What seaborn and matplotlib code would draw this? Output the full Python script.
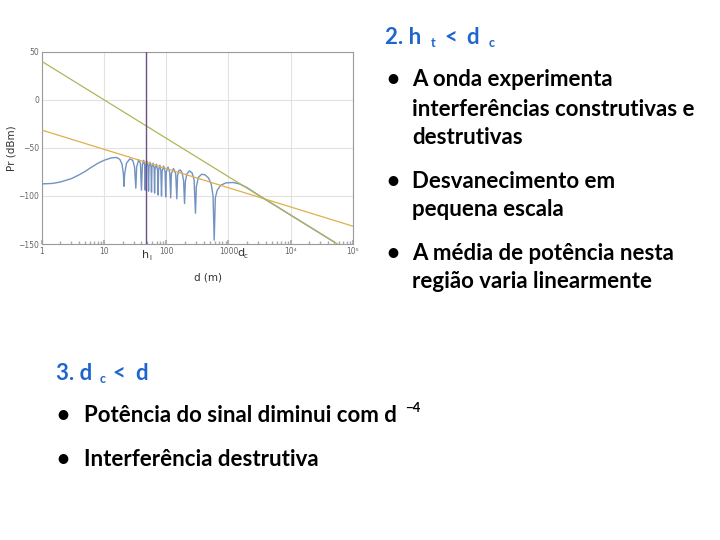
import numpy as np
import pandas as pd
import matplotlib
matplotlib.use("Agg")
import matplotlib.pyplot as plt
import seaborn as sns

# ---- data ----
# two-ray received power curve (d in m, Pr in dBm)
blue_d = [1, 1.5, 2, 3, 4, 5, 6, 8, 10, 13, 16, 18, 19.5, 20.5, 21, 21.5, 23, 26, 29, 31,
          32.5, 33.5, 36, 38.5, 40, 41.5, 43.5, 45, 46, 47, 49, 51, 52, 53, 55, 57,
          58, 59, 61.5, 64, 65, 66, 69.5, 72.5, 74, 75.5, 79, 82, 84, 86, 91, 96,
          98, 100.5, 107, 114, 118, 121, 131, 142, 148, 152, 160, 169, 180, 190,
          197, 203, 215, 236, 260, 280, 295, 305, 330, 370, 420, 480, 530, 565,
          590, 615, 660, 750, 900, 1180, 1500, 2000, 3000, 4000, 6000, 10000, 20000, 50000]
blue_pr = [-87.5, -87, -85.5, -82, -78, -74.5, -71, -66, -63, -60.5, -60, -62, -67, -77, -90, -77, -66, -61.5, -63, -70,
           -92, -70, -62.5, -66, -94, -67, -63, -68, -94, -68, -64, -69, -95, -69, -65, -70,
           -96, -70, -66, -71, -97, -72, -67, -73, -99, -73, -68, -74, -100, -74, -69, -75,
           -101, -75, -70, -76, -102, -77, -71.5, -77, -103, -79, -73.5, -73, -76, -84,
           -108, -85, -77, -74, -76, -83, -118, -90, -80.5, -77.5, -78, -81.5, -88, -100,
           -146, -102, -94, -89, -86.5, -86, -87.5, -91.5, -99, -104, -111, -120, -132, -148]

# reference lines: value at d = 1 and d = 1e5
line_d = [1, 100000]
d4_pr = [40, -160]       # steep (d^-4) line
d2_pr = [-31.5, -131.5]  # shallow (d^-2) line

ht_d = 46.5  # h_t marker
xticks = [1, 10, 100, 1000, 10000, 100000]
xticklabels = ["1", "10", "100", "1000", "10⁴", "10⁵"]
yticks = [50, 0, -50, -100, -150]
yticklabels = ["50", "0", "−50", "−100", "−150"]

sns.set_theme(style="white")
plt.rcParams["font.family"] = ["DejaVu Sans"]

fig = plt.figure(figsize=(7.2, 5.4), dpi=100)
fig.patch.set_facecolor("white")
ax = fig.add_axes([41.7 / 720, 1 - 244 / 540, (353 - 41.7) / 720, (244 - 51.7) / 540])

blue_df = pd.DataFrame({"d": blue_d, "pr": blue_pr})
l4_df = pd.DataFrame({"d": line_d, "pr": d4_pr})
l2_df = pd.DataFrame({"d": line_d, "pr": d2_pr})

sns.lineplot(data=blue_df, x="d", y="pr", ax=ax, color="#7392C2", lw=1.0, sort=False, zorder=3)
sns.lineplot(data=l2_df, x="d", y="pr", ax=ax, color="#E2AE4A", lw=0.9, zorder=4)
sns.lineplot(data=l4_df, x="d", y="pr", ax=ax, color="#B0B55A", lw=0.9, zorder=4)
ax.axvline(ht_d, color="#6E4E86", lw=1.0, zorder=5)

ax.set_xscale("log")
ax.set_xlim(1, 1e5)
ax.set_ylim(-150, 50)
ax.set_xticks(xticks)
ax.set_xticklabels(xticklabels)
ax.set_yticks(yticks)
ax.set_yticklabels(yticklabels)
ax.grid(True, color="#E2E2E2", lw=0.8)
ax.tick_params(axis="both", labelsize=5.5, colors="#666666", length=0, pad=2)
ax.tick_params(axis="x", which="minor", bottom=True, length=2, color="#AAAAAA", direction="in")
ax.tick_params(axis="x", which="major", bottom=True, length=3, color="#AAAAAA", direction="in")
for s in ax.spines.values():
    s.set_color("#9A9A9A")
    s.set_linewidth(0.8)
ax.set_xlabel("")
ax.set_ylabel("")

# chart annotations
fig.text(12 / 720, 1 - 148 / 540, "Pr (dBm)", rotation=90, ha="center", va="center", fontsize=7.5, color="#333333")
fig.text(208 / 720, 1 - 277 / 540, "d (m)", ha="center", va="center", fontsize=7.5, color="#333333")
fig.text(146 / 720, 1 - 255 / 540, "h", ha="center", va="center", fontsize=8, color="#333333")
fig.text(150 / 720, 1 - 258 / 540, "l", ha="center", va="center", fontsize=5, color="#333333")
fig.text(241 / 720, 1 - 253 / 540, "d", ha="center", va="center", fontsize=8, color="#333333")
fig.text(245.5 / 720, 1 - 256 / 540, "c", ha="center", va="center", fontsize=5, color="#333333")

# slide text
tf = ["Lato", "DejaVu Sans"]
blue = "#1F66CC"
fs = 16
def px(x, y):
    return x / 720, 1 - y / 540

def heading(parts, y):
    for x, s, size, dy in parts:
        fig.text(*px(x, y + dy), s, fontsize=size, color=blue, fontweight="bold", family=tf, va="center")

heading([(385, "2. h", fs, 0), (431, "t", 9, 6), (444, "<", fs, 0), (466, "d", fs, 0), (489, "c", 9, 6)], 37)
heading([(56, "3. d", fs, 0), (100, "c", 9, 6), (112, "<", fs, 0), (135, "d", fs, 0)], 373)

bul = [
    (393, 412, 79, "A onda experimenta"),
    (None, 412, 109, "interferências construtivas e"),
    (None, 412, 137, "destrutivas"),
    (393, 412, 181, "Desvanecimento em"),
    (None, 412, 210, "pequena escala"),
    (393, 412, 253, "A média de potência nesta"),
    (None, 412, 282, "região varia linearmente"),
    (63, 84, 415, "Potência do sinal diminui com d"),
    (63, 84, 459, "Interferência destrutiva"),
]
for bx, tx, y, s in bul:
    if bx is not None:
        fig.text(*px(bx, y), "•", fontsize=fs, color="black", family=tf, ha="center", va="center",
                 fontweight="bold")
    fig.text(*px(tx, y), s, fontsize=fs, color="black", family=tf, va="center", fontweight="bold")
fig.text(*px(405, 408), "−4", fontsize=9.5, color="black", family=tf, va="center", fontweight="bold")

fig.savefig("out.png", dpi=100, facecolor="white")
